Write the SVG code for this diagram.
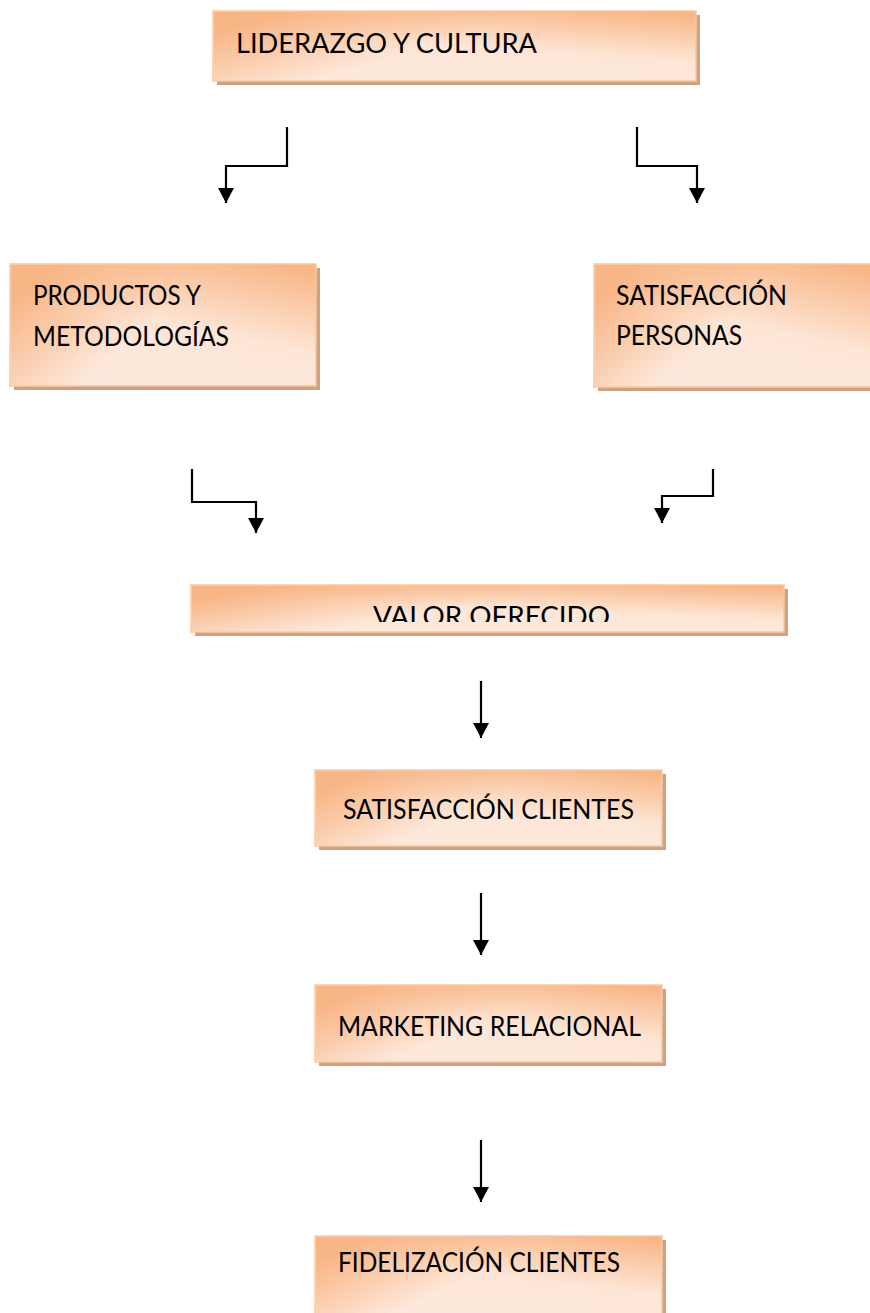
<svg xmlns="http://www.w3.org/2000/svg" width="870" height="1313" viewBox="0 0 870 1313">
<style>
.box{fill:url(#g);stroke:#f9c7a0;stroke-width:1.5}
.ov{fill:url(#g2)}
.sh{fill:#cca283}
.t{font-family:"Lato","Open Sans","Liberation Sans",sans-serif;font-size:26px;fill:#000}
.c{fill:none;stroke:#000;stroke-width:2.2}
</style>
<defs>
<linearGradient id="g" x1="0.9" y1="0" x2="0.4" y2="1">
<stop offset="0" stop-color="#f8b585"/>
<stop offset="0.55" stop-color="#fde6d6"/>
<stop offset="1" stop-color="#fde9dc"/>
</linearGradient>
<linearGradient id="g2" x1="0" y1="0.3" x2="0.45" y2="0.5">
<stop offset="0" stop-color="#f8b585" stop-opacity="1"/>
<stop offset="1" stop-color="#f8b585" stop-opacity="0"/>
</linearGradient>
<marker id="ah" markerWidth="16" markerHeight="16" refX="15" refY="8" orient="auto" markerUnits="userSpaceOnUse">
<path d="M0,0 L15,8 L0,16 Z" fill="#000"/>
</marker>
<clipPath id="vc"><rect x="191" y="585" width="593" height="37"/></clipPath>
</defs>
<g id="n1">
<rect class="sh" x="217" y="15" width="483" height="70"/>
<rect class="box" x="213" y="11" width="483" height="70"/>
<rect class="ov" x="214" y="12" width="481" height="68"/>
<text class="t" x="236" y="53" textLength="301" lengthAdjust="spacingAndGlyphs">LIDERAZGO Y CULTURA</text>
</g>
<g id="n2">
<rect class="sh" x="14" y="268" width="306" height="122"/>
<rect class="box" x="10" y="264" width="306" height="122"/>
<rect class="ov" x="11" y="265" width="304" height="120"/>
<text class="t" x="33" y="305" textLength="168" lengthAdjust="spacingAndGlyphs">PRODUCTOS Y</text>
<text class="t" x="33" y="346" textLength="196" lengthAdjust="spacingAndGlyphs">METODOLOGÍAS</text>
</g>
<g id="n3">
<rect class="sh" x="598" y="268" width="280" height="123"/>
<rect class="box" x="594" y="264" width="280" height="123"/>
<rect class="ov" x="595" y="265" width="278" height="121"/>
<text class="t" x="616" y="305" textLength="171" lengthAdjust="spacingAndGlyphs">SATISFACCIÓN</text>
<text class="t" x="616" y="345" textLength="126" lengthAdjust="spacingAndGlyphs">PERSONAS</text>
</g>
<g id="n4">
<rect class="sh" x="195" y="589" width="593" height="47"/>
<rect class="box" x="191" y="585" width="593" height="47"/>
<rect class="ov" x="192" y="586" width="591" height="45"/>
<text class="t" x="373" y="626" textLength="237" lengthAdjust="spacingAndGlyphs" clip-path="url(#vc)">VALOR OFRECIDO</text>
</g>
<g id="n5">
<rect class="sh" x="319" y="774" width="347" height="76"/>
<rect class="box" x="315" y="770" width="347" height="76"/>
<rect class="ov" x="316" y="771" width="345" height="74"/>
<text class="t" x="343" y="819" textLength="291" lengthAdjust="spacingAndGlyphs">SATISFACCIÓN CLIENTES</text>
</g>
<g id="n6">
<rect class="sh" x="319" y="989" width="347" height="77"/>
<rect class="box" x="315" y="985" width="347" height="77"/>
<rect class="ov" x="316" y="986" width="345" height="75"/>
<text class="t" x="338" y="1036" textLength="303" lengthAdjust="spacingAndGlyphs">MARKETING RELACIONAL</text>
</g>
<g id="n7">
<rect class="sh" x="319" y="1240" width="347" height="80"/>
<rect class="box" x="315" y="1236" width="347" height="80"/>
<rect class="ov" x="316" y="1237" width="345" height="78"/>
<text class="t" x="338" y="1272" textLength="282" lengthAdjust="spacingAndGlyphs">FIDELIZACIÓN CLIENTES</text>
</g>
<g id="connectors">
<path class="c" d="M287,127 V166 H226 V203" marker-end="url(#ah)"/>
<path class="c" d="M637,127 V166 H697 V203" marker-end="url(#ah)"/>
<path class="c" d="M192,469 V502 H256 V533" marker-end="url(#ah)"/>
<path class="c" d="M713,469 V496 H662 V523" marker-end="url(#ah)"/>
<path class="c" d="M481,681 V738" marker-end="url(#ah)"/>
<path class="c" d="M481,893 V955" marker-end="url(#ah)"/>
<path class="c" d="M481,1140 V1202" marker-end="url(#ah)"/>
</g>
</svg>
